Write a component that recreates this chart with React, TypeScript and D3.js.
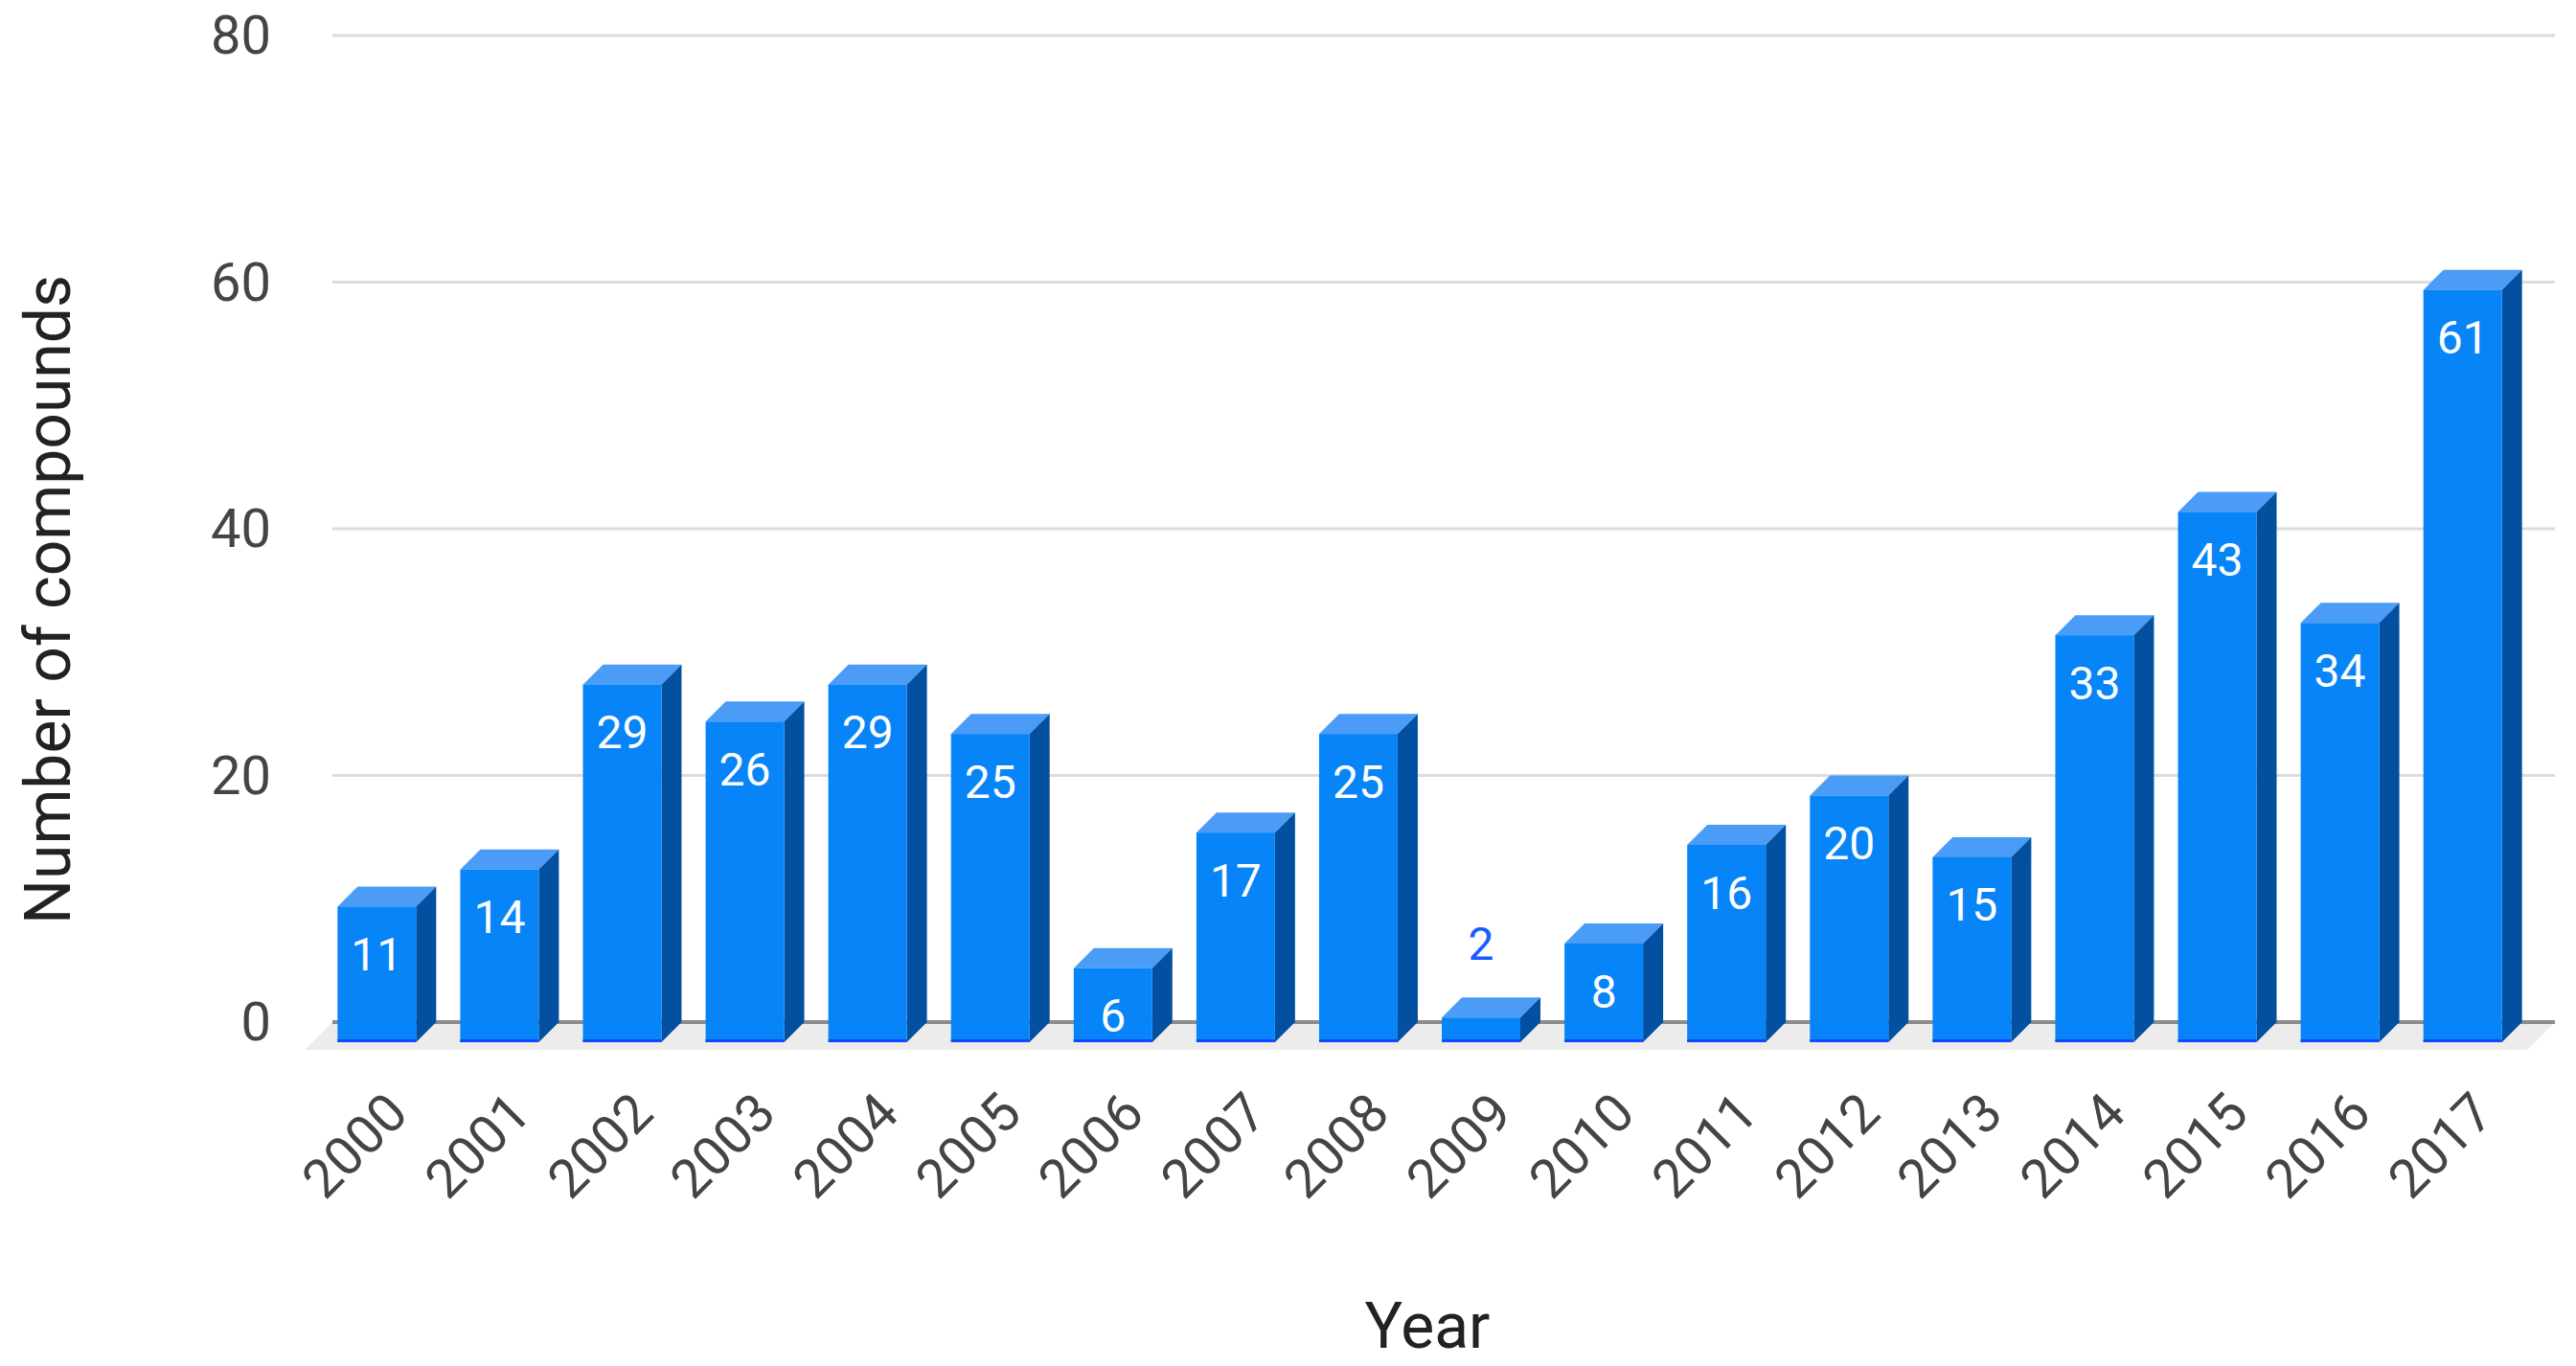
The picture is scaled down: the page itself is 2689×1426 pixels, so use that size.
import * as d3 from 'd3'

const years = ['2000', '2001', '2002', '2003', '2004', '2005', '2006', '2007', '2008', '2009', '2010', '2011', '2012', '2013', '2014', '2015', '2016', '2017']
const counts = [11, 14, 29, 26, 29, 25, 6, 17, 25, 2, 8, 16, 20, 15, 33, 43, 34, 61]
const yTicks = [0, 20, 40, 60, 80]

const W = 2689
const H = 1426
const DEPTH = 21
const FONT = 'Roboto, "Noto Sans", sans-serif'

export default function App() {
  const x = d3.scaleBand<string>().domain(years).range([349, 2657]).paddingInner(0.36).paddingOuter(0.19)
  const y = d3.scaleLinear().domain([0, 80]).range([1067, 37])
  const bw = x.bandwidth()
  const base = y(0)
  const floorDepth = 29

  return (
    <svg width={W} height={H} style={{ position: 'absolute', left: 0, top: 0, background: '#fff' }}>
      {/* floor */}
      <polygon
        points={`347,${base} 2667,${base} ${2667 - floorDepth},${base + floorDepth} ${347 - floorDepth},${base + floorDepth}`}
        fill="#ececec"
      />
      {/* grid */}
      {yTicks.map((t) => (
        <g key={t}>
          <line x1={347} x2={2667} y1={y(t)} y2={y(t)} stroke={t === 0 ? '#8c8c8c' : '#dcdcdc'} strokeWidth={t === 0 ? 4 : 3} />
          <text x={283} y={y(t)} textAnchor="end" dominantBaseline="central" fontFamily={FONT} fontSize={56} fill="#444">
            {t}
          </text>
        </g>
      ))}
      {/* bars */}
      {years.map((yr, i) => {
        const v = counts[i]
        const fx = (x(yr) as number) - DEPTH
        const fy = y(v) + DEPTH
        const fb = base + DEPTH
        const inside = fb - fy > 60
        return (
          <g key={yr}>
            <polygon
              points={`${fx},${fy} ${fx + DEPTH},${fy - DEPTH} ${fx + DEPTH + bw},${fy - DEPTH} ${fx + bw},${fy}`}
              fill="#4a9cf6"
            />
            <polygon
              points={`${fx + bw},${fy} ${fx + bw + DEPTH},${fy - DEPTH} ${fx + bw + DEPTH},${base} ${fx + bw},${fb}`}
              fill="#02509f"
            />
            <rect x={fx} y={fy} width={bw} height={fb - fy} fill="#0784f8" />
            <line x1={fx} x2={fx + bw} y1={fb - 1.5} y2={fb - 1.5} stroke="#1248ff" strokeWidth={3} />
            <text
              x={fx + bw / 2}
              y={inside ? fy + 50 : fy - 77}
              textAnchor="middle"
              dominantBaseline="central"
              fontFamily={FONT}
              fontSize={48}
              fill={inside ? '#fff' : '#1a5cff'}
            >
              {v}
            </text>
            <text
              transform={`translate(${fx + bw / 2 + 35},${1165}) rotate(-45)`}
              textAnchor="end"
              fontFamily={FONT}
              fontSize={56}
              fill="#444"
            >
              {yr}
            </text>
          </g>
        )
      })}
      {/* axis titles */}
      <text transform="translate(73,626) rotate(-90)" textAnchor="middle" fontFamily={FONT} fontSize={66} fill="#222">
        Number of compounds
      </text>
      <text x={1490} y={1407} textAnchor="middle" fontFamily={FONT} fontSize={66} fill="#222">
        Year
      </text>
    </svg>
  )
}
